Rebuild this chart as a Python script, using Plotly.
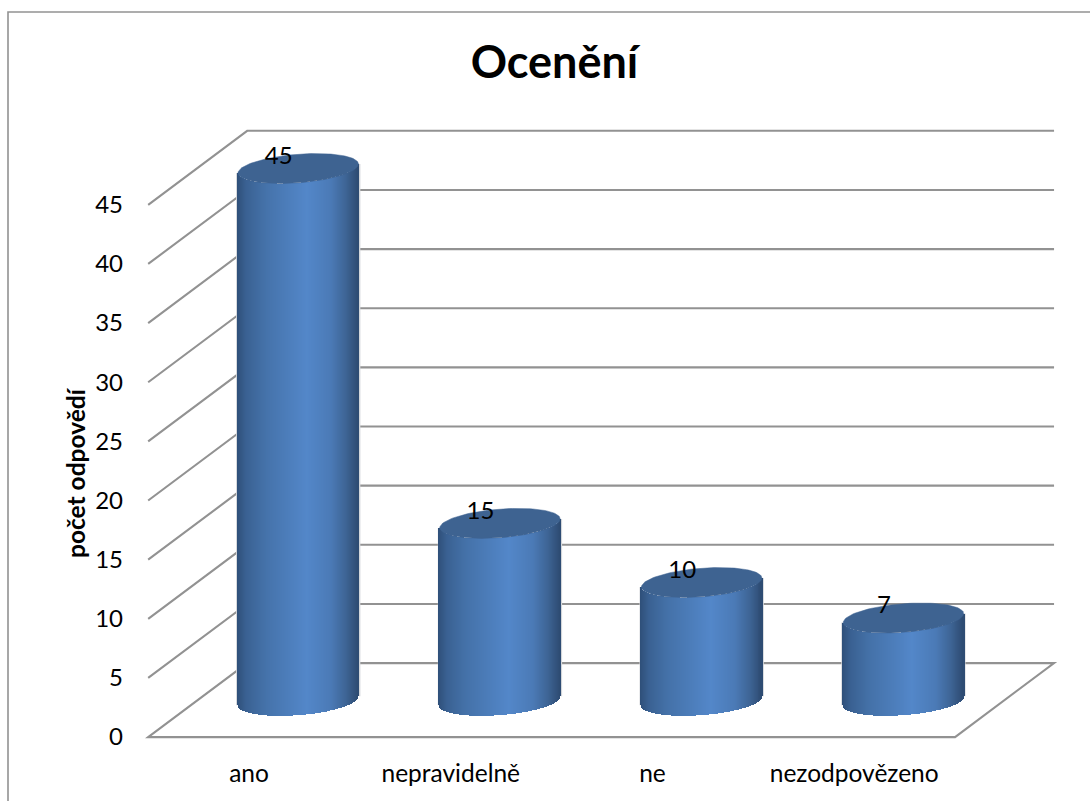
import numpy as np
import plotly.graph_objects as go

# Chart content
title_text = "Ocenění"
axis_title = "počet odpovědí"
categories = ["ano", "nepravidelně", "ne", "nezodpovězeno"]
answers = [45, 15, 10, 7]
value_ticks = [0, 5, 10, 15, 20, 25, 30, 35, 40, 45]

# Canvas and plot box, in pixels
W, H = 1090, 801
L, R, T, B = 128, 24, 122, 58
X_RANGE = [-0.6, 4.05]
Y_RANGE = [-0.5, 52.0]
px_x = (W - L - R) / (X_RANGE[1] - X_RANGE[0])
px_y = (H - T - B) / (Y_RANGE[1] - Y_RANGE[0])

# Oblique projection of the floor and back wall, in axis units
DEPTH_X = 99 / px_x
DEPTH_Y = 74 / px_y
BAR_DEPTH = 0.49          # bars stand this far back on the floor
RADIUS_X = 60.2 / px_x
RADIUS_Y = 14.3 / px_y
TILT = 4.5 / px_y         # cap ellipse leans up towards the right

GRID = "#929292"
CAP = "#3e6391"
FRINGE = "#d3d6da"
FONT = "Lato, 'Open Sans', sans-serif"
# Shading across a cylinder: (position, r, g, b)
SHADE = [(0.00, 47, 80, 122), (0.07, 58, 97, 146), (0.22, 68, 113, 168),
         (0.58, 83, 135, 201), (0.78, 75, 122, 182), (0.90, 62, 101, 150),
         (1.00, 46, 76, 115)]
pos = [s[0] for s in SHADE]

fig = go.Figure()

# Walls and floor: tick level on the left edge, back along the depth, then across
shapes = []
x0, x1 = -0.5, 3.5
for v in value_ticks:
    path = (f"M {x0} {v} L {x0 + DEPTH_X} {v + DEPTH_Y} "
            f"L {x1 + DEPTH_X} {v + DEPTH_Y}")
    if v == 0:
        path += f" L {x1} 0 L {x0} 0 Z"
    shapes.append(dict(type="path", path=path, xref="x", yref="y", layer="below",
                       line=dict(color=GRID, width=2.1)))

# Outer chart frame (top and left edges only)
fx = lambda p: (p - L) / (W - L - R)
fy = lambda p: 1 - (p - T) / (H - T - B)
shapes.append(dict(type="path", xref="paper", yref="paper", layer="below",
                   path=f"M {fx(8)} {fy(H + 5)} L {fx(8)} {fy(12)} L {fx(W + 5)} {fy(12)}",
                   line=dict(color=GRID, width=1.6)))

# Cylinder bodies as thin shaded bars, standing on the lower rim of each base
base_level = BAR_DEPTH * DEPTH_Y
centres = np.arange(len(categories)) + BAR_DEPTH * DEPTH_X + 0.7 / px_x
u = np.linspace(-1, 1, 122)
bx, by, bbase, bcol = [], [], [], []
for c, val in zip(centres, answers):
    for ui in u:
        bx.append(c + ui * RADIUS_X)
        by.append(val)
        bbase.append(base_level + ui * TILT - RADIUS_Y * np.sqrt(max(0, 1 - ui * ui)))
        f = (ui + 1) / 2
        rgb = [np.interp(f, pos, [s[i] for s in SHADE]) for i in (1, 2, 3)]
        bcol.append("rgb({:.0f},{:.0f},{:.0f})".format(*rgb))
    # Faint light edge along both sides of the cylinder
    e = RADIUS_X + 1.2 / px_x
    shapes.append(dict(type="path", xref="x", yref="y", layer="below",
                       path=(f"M {c - e} {base_level - TILT} L {c - e} {base_level + val - TILT} "
                             f"M {c + e} {base_level + TILT} L {c + e} {base_level + val + TILT}"),
                       line=dict(color=FRINGE, width=1.5)))
fig.add_trace(go.Bar(x=bx, y=by, base=bbase, width=1.8 / px_x,
                     marker=dict(color=bcol, line=dict(width=0)),
                     hoverinfo="skip", showlegend=False))

# Cylinder caps
t = np.linspace(0, 2 * np.pi, 121)
for c, val in zip(centres, answers):
    fig.add_trace(go.Scatter(
        x=c + RADIUS_X * np.cos(t),
        y=base_level + val + TILT * np.cos(t) + RADIUS_Y * np.sin(t),
        mode="lines", fill="toself", fillcolor=CAP, line=dict(color=CAP, width=0.5),
        hoverinfo="skip", showlegend=False))

# Value labels, sitting on the left part of each cap
fig.add_trace(go.Scatter(
    x=centres - 19.5 / px_x,
    y=[base_level + v + 0.9 for v in answers],
    text=[str(v) for v in answers], mode="text", textposition="middle center",
    textfont=dict(family=FONT, size=24, color="#000000"),
    hoverinfo="skip", showlegend=False, cliponaxis=False))

fig.update_layout(
    width=W, height=H, margin=dict(l=L, r=R, t=T, b=B),
    paper_bgcolor="white", plot_bgcolor="white", barmode="overlay", bargap=0,
    showlegend=False, shapes=shapes,
    title=dict(text=f"<b>{title_text}</b>", x=554.5 / W, xanchor="center",
               y=1 - 62 / H, yanchor="middle",
               font=dict(family=FONT, size=45, color="#000000")),
    xaxis=dict(range=X_RANGE, tickmode="array", tickvals=list(range(len(categories))),
               ticktext=categories, showgrid=False, zeroline=False, showline=False,
               ticks="", ticklabelstandoff=13,
               tickfont=dict(family=FONT, size=24.5, color="#000000")),
    yaxis=dict(range=Y_RANGE, tickmode="array", tickvals=value_ticks, showgrid=False,
               zeroline=False, showline=False, ticks="", ticklabelstandoff=4,
               tickfont=dict(family=FONT, size=24, color="#000000")),
    annotations=[dict(text=f"<b>{axis_title}</b>", textangle=-90, showarrow=False,
                      xref="paper", yref="paper", xanchor="center", yanchor="middle",
                      x=fx(75), y=fy(473),
                      font=dict(family=FONT, size=24.5, color="#000000"))],
)

fig.write_html("out.html", config=dict(displayModeBar=False))
